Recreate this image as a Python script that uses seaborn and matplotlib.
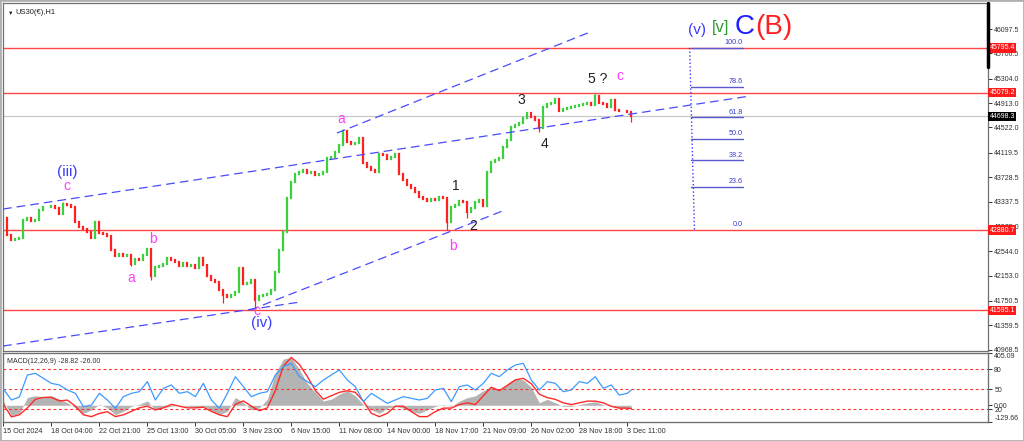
import numpy as np
import matplotlib
matplotlib.use("Agg")
import matplotlib.pyplot as plt
import matplotlib.transforms as mtransforms
import seaborn as sns

# ---------------- data ----------------
# H1 closes, one value per ~5 bars
closes = [
    43074, 42802, 42722, 42738, 42754, 43042, 43074, 43026, 43042, 43202,
    43250, 43250, 43266, 43234, 43138, 43298, 43282, 43250, 43010, 42930,
    42898, 42850, 42754, 43010, 42834, 42818, 42786, 42562, 42466, 42498,
    42466, 42482, 42338, 42418, 42402, 42482, 42578, 42146, 42290, 42306,
    42338, 42434, 42402, 42370, 42306, 42354, 42306, 42322, 42274, 42434,
    42322, 42146, 42082, 42050, 41922, 41842, 41810, 41842, 41890, 42274,
    42018, 42034, 42082, 41762, 41826, 41842, 41858, 41922, 42210, 42562,
    42850, 43394, 43650, 43778, 43810, 43842, 43794, 43810, 43762, 43778,
    43810, 44034, 44050, 44130, 44242, 44466, 44290, 44258, 44274, 44354,
    43954, 43890, 43842, 43810, 44098, 44082, 44018, 44050, 44098, 43778,
    43682, 43602, 43554, 43490, 43410, 43378, 43346, 43378, 43362, 43410,
    43394, 43010, 43250, 43282, 43346, 43330, 43170, 43234, 43330, 43362,
    43266, 43810, 43970, 44002, 44034, 44210, 44322, 44530, 44562, 44594,
    44674, 44754, 44690, 44642, 44514, 44850, 44898, 44914, 44978, 44786,
    44818, 44834, 44850, 44866, 44882, 44898, 44914, 44882, 45026, 44914,
    44898, 44850, 44962, 44802, 44786, 44786, 44770, 44698.3,
]
high_idx = [15, 85, 138, 148, 152]
high_val = [43330, 44500, 44985, 45079.2, 44985]
low_idx = [32, 37, 55, 63, 111, 116, 134, 157]
low_val = [42306, 42082, 41714, 41595.1, 42880.7, 43074, 44450, 44610]

date_labels = ["15 Oct 2024", "18 Oct 04:00", "22 Oct 21:00", "25 Oct 13:00",
               "30 Oct 05:00", "3 Nov 23:00", "6 Nov 15:00", "11 Nov 08:00",
               "14 Nov 00:00", "18 Nov 17:00", "21 Nov 09:00", "26 Nov 02:00",
               "28 Nov 18:00", "3 Dec 11:00"]
price_ticks = [46097.5, 45706.5, 45304.0, 44913.0, 44522.0, 44119.5, 43728.5,
               43337.5, 42935.0, 42544.0, 42153.0, 41750.5, 41359.5, 40968.5]

# horizontal levels
red_levels = [45795.4, 45079.2, 42880.7, 41595.1]
last_price = 44698.3

# trend lines: (x0, p0, x1, p1)
trend_lines = [
    (-0.1, 43217, 186.7, 45025),
    (-0.1, 41025, 74.2, 41729),
    (61.7, 41601, 125.4, 43201),
    (83.4, 44433, 146.7, 46049),
]

# fib retracement
fib_low, fib_high = 42880.7, 45795.4
fib_ratios = [0.0, 0.236, 0.382, 0.5, 0.618, 0.786, 1.0]
fib_names = ["0.0", "23.6", "38.2", "50.0", "61.8", "78.6", "100.0"]

# wave labels: (text, x, price, colour, size)
wave_labels = [
    ("(iii)", 15.9, 43810, "#3a3aff", 11), ("c", 15.9, 43590, "#ff3cff", 10),
    ("a", 31.9, 42114, "#ff3cff", 10), ("b", 37.4, 42738, "#ff3cff", 10),
    ("c", 63.4, 41590, "#ff3cff", 10), ("(iv)", 64.7, 41394, "#3a3aff", 11),
    ("a", 84.4, 44658, "#ff3cff", 10), ("b", 112.4, 42626, "#ff3cff", 10),
    ("1", 113.2, 43586, "#222222", 10), ("2", 117.4, 42946, "#222222", 10),
    ("3", 129.4, 44962, "#222222", 10), ("4", 135.2, 44258, "#222222", 10),
    ("5 ?", 148.7, 45298, "#222222", 10), ("c", 154.2, 45346, "#ff3cff", 10),
    ("(v)", 173.4, 46082, "#3a3aff", 11), ("[v]", 179.4, 46114, "#2e9a2e", 12),
    ("C", 185.4, 46130, "#2020ff", 20), ("(B)", 192.6, 46130, "#ff2020", 20),
]

# MACD panel (sampled every 2 candles)
macd_idx = list(range(0, 157, 2)) + [157]
osc_blue = [
    50, 33.5, 38, 71, 73.5, 66, 58.5, 56, 48.5, 43.5,
    23.5, 26, 43.5, 33.5, 21, 38.5, 43.5, 46, 61, 33.5,
    51, 56, 43.5, 46, 38.5, 58.5, 33.5, 21, 43.5, 68.5,
    53.5, 38.5, 43.5, 46, 71, 83.5, 88.5, 68.5, 61, 53.5,
    63.5, 71, 78.5, 63.5, 53.5, 31, 43.5, 36, 28.5, 33.5,
    38.5, 36, 33.5, 36, 48.5, 51, 31, 53.5, 56, 48.5,
    58.5, 73.5, 68.5, 78.5, 86, 88.5, 63.5, 48.5, 61, 58.5,
    46, 48.5, 61, 58.5, 68.5, 51, 56, 41, 43.5, 48.5,
]
macd_hist = [
    32, -79, -63, 61, 74, 66, 74, 47, 20, -20,
    -63, -36, 7, -20, -74, -47, -7, 7, 34, -36,
    -20, -7, 0, -7, -15, -7, -40, -74, -47, 61,
    20, -36, -20, 47, 250, 358, 371, 277, 169, 101,
    34, 47, 86, 113, 73, 5, -35, -62, -22, -8,
    -22, -49, -62, -35, -8, 5, -8, 32, 59, 73,
    113, 140, 113, 167, 209, 196, 140, 19, 46, 19,
    -8, -8, 5, 19, 27, 5, -8, -22, -22, -28.82,
]
macd_signal = [
    7, -90, -74, -20, 47, 61, 61, 34, 40, -7,
    -74, -88, -63, -50, -88, -74, -47, -20, -7, -36,
    -20, 7, -7, -20, -20, -15, -47, -74, -88, 7,
    34, -7, -42, -20, 115, 304, 371, 317, 223, 115,
    47, 74, 100, 113, 100, 32, -62, -88, -62, -8,
    -8, -49, -88, -88, -49, -22, -22, 5, 19, 5,
    73, 140, 113, 154, 196, 209, 167, 86, 59, 46,
    19, 5, 19, 32, 32, 19, -8, -22, -22, -26.0,
]
osc_levels = [80, 50, 20]

# ---------------- style ----------------
sns.set_style("white")
plt.rcParams["font.family"] = ["Liberation Sans", "DejaVu Sans"]

fig = plt.figure(figsize=(10.24, 4.41), dpi=100)
fig.patch.set_facecolor("white")
ax = fig.add_axes([3 / 1024, 90 / 441, 985 / 1024, 348 / 441])
ax_m = fig.add_axes([3 / 1024, 19 / 441, 985 / 1024, 69 / 441])

x_lim = (-0.1, 246.2)
for a in (ax, ax_m):
    a.set_xlim(*x_lim)
    for s in a.spines.values():
        s.set_color("#707070")
        s.set_linewidth(0.9)

# ---------------- candles ----------------
c = np.array(closes, dtype=float)
o = np.r_[c[0], c[:-1]]
xi = np.arange(len(c))
up = c >= o
green, red = "#3cd03c", "#ff2020"
for i, v in zip(high_idx, high_val):
    ax.vlines(i, max(o[i], c[i]), v, color=green if up[i] else red, lw=0.9, zorder=3)
for i, v in zip(low_idx, low_val):
    ax.vlines(i, v, min(o[i], c[i]), color=green if up[i] else red, lw=0.9, zorder=3)
ax.vlines(xi[up], o[up], c[up], color=green, lw=1.6, capstyle="projecting", zorder=3)
ax.vlines(xi[~up], o[~up], c[~up], color=red, lw=1.6, capstyle="projecting", zorder=3)

ax.set_ylim(40945.5, 46513.5)

for lv in red_levels:
    ax.axhline(lv, color="#ff4545", lw=1.0, zorder=2)
ax.axhline(last_price, color="#c8c8c8", lw=0.9, zorder=1)

for x0, p0, x1, p1 in trend_lines:
    ax.plot([x0, x1], [p0, p1], color="#4a4aff", lw=0.9, dashes=(7, 4), zorder=4)

# fib tool
fib_x0, fib_x1 = 171.9, 184.9
ax.plot([171.6, 172.8], [fib_high, fib_low], color="#3a3aff", lw=1.0, ls=":", zorder=4)
for r, name in zip(fib_ratios, fib_names):
    lvl = fib_low + r * (fib_high - fib_low)
    if r > 0:
        ax.plot([fib_x0, fib_x1], [lvl, lvl], color="#5a5ad0", lw=1.0, zorder=4)
    ax.text(fib_x1, lvl + 25, name, color="#3a3ad0", fontsize=5.2,
            ha="right", va="bottom", zorder=5)

for txt, x, p, col, sz in wave_labels:
    ax.text(x, p, txt, color=col, fontsize=sz, ha="center", va="center", zorder=6)

# price axis
ax.yaxis.tick_right()
ax.set_yticks(price_ticks)
ax.set_yticklabels([f"{p:.1f}" for p in price_ticks])
ax.tick_params(axis="y", right=True, length=3, width=0.7, labelsize=5,
               pad=1.5, colors="#303030")
ax.set_xticks([])

blend = mtransforms.blended_transform_factory(ax.transAxes, ax.transData)
for lv in red_levels:
    ax.text(1.0015, lv, f"{lv:.1f}", transform=blend, color="white", fontsize=5,
            ha="left", va="center", clip_on=False, zorder=10,
            bbox=dict(boxstyle="square,pad=0.18", fc="#ff1a1a", ec="none"))
ax.text(1.0015, last_price, f"{last_price:.1f}", transform=blend, color="white",
        fontsize=5, ha="left", va="center", clip_on=False, zorder=10,
        bbox=dict(boxstyle="square,pad=0.18", fc="black", ec="none"))
ax.plot([1, 1], [1, 0.816], transform=ax.transAxes, color="black", lw=2.5,
        clip_on=False, zorder=11)

ax.text(0.013, 0.982, "US30(€),H1", transform=ax.transAxes, fontsize=5.5,
        color="#202020", ha="left", va="top")
ax.text(0.0045, 0.978, "▼", transform=ax.transAxes, fontsize=4,
        color="#202020", ha="left", va="top")

# ---------------- MACD / oscillator panel ----------------
mx = np.array(macd_idx)
ax_m.fill_between(mx, 0, macd_hist, color="#b4b4b4", lw=0, zorder=1)
sns.lineplot(x=mx, y=macd_signal, ax=ax_m, color="#ff2a2a", lw=1.0, zorder=2)
ax_m.set_ylim(-129.66, 405.09)

ax_o = ax_m.twinx()
ax_o.set_xlim(*x_lim)
for lv in osc_levels:
    ax_o.axhline(lv, color="#ff3030", lw=0.8, dashes=(2.5, 2.5), zorder=1)
sns.lineplot(x=mx, y=osc_blue, ax=ax_o, color="#3d9bff", lw=0.9, zorder=3)
ax_o.set_ylim(0.5, 104)
ax_o.set_yticks(osc_levels)
ax_o.set_yticklabels([str(v) for v in osc_levels])
ax_o.tick_params(axis="y", right=True, length=3, width=0.7, labelsize=5,
                 pad=1.5, colors="#303030")
for s in ax_o.spines.values():
    s.set_color("#707070")
ax_o.set_ylabel("")

# twinx moves the first axis' ticks to the left, put them back on the right
ax_m.yaxis.tick_right()
ax_m.yaxis.set_label_position("right")
ax_m.set_yticks([405.09, 0, -129.66])
ax_m.set_yticklabels(["405.09", "0.00", "-129.66"])
lbls = ax_m.get_yticklabels()
lbls[0].set_va("top")
lbls[2].set_va("bottom")
ax_m.tick_params(axis="y", left=False, right=True, labelleft=False, labelright=True,
                 length=3, width=0.7, labelsize=5, pad=1.5, colors="#303030")
ax_m.set_ylabel("")

ax_m.text(0.0045, 0.93, "MACD(12,26,9) -28.82 -26.00", transform=ax_m.transAxes,
          fontsize=5, color="#303030", ha="left", va="top", zorder=6)

ax_m.set_xticks(list(range(0, 157, 12)))
ax_m.set_xticklabels(date_labels)
for t in ax_m.get_xticklabels():
    t.set_ha("left")
ax_m.tick_params(axis="x", bottom=True, length=3, width=0.7, labelsize=5.2,
                 pad=1.5, colors="#303030")

fig.patches.append(plt.Rectangle((0, 0), 1, 1, transform=fig.transFigure,
                                 fill=False, ec="#b0b0b0", lw=2))

fig.savefig("out.png", dpi=100, facecolor="white")
